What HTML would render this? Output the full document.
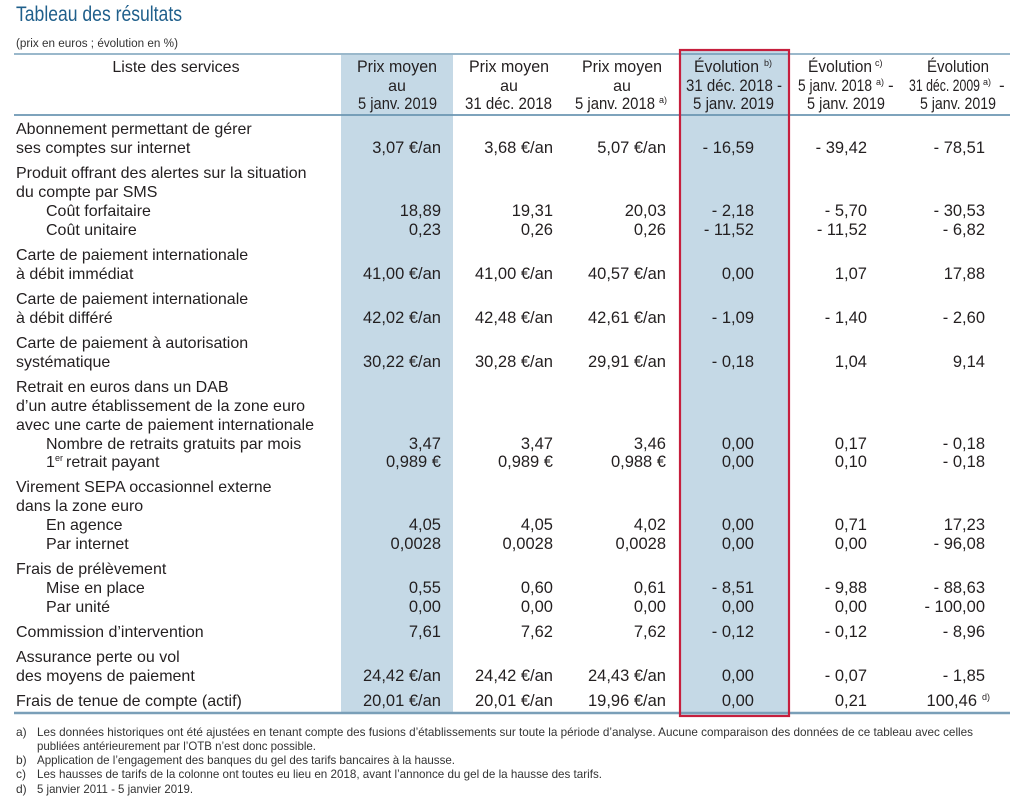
<!DOCTYPE html>
<html>
<head>
<meta charset="utf-8">
<style>
html,body{margin:0;padding:0;background:#ffffff;}
svg{display:block;}
text{font-family:"Liberation Sans",Arial,sans-serif;fill:#231f20;}
.t{font-size:16px;}
.n{font-size:16.5px;text-anchor:end;}
.h{font-size:16px;text-anchor:middle;}
.hs{font-size:17px;}
.sup{font-size:9px;}
.f{font-size:12px;fill:#333333;}
</style>
</head>
<body>
<svg width="1020" height="811" viewBox="0 0 1020 811" xmlns="http://www.w3.org/2000/svg">
  <!-- Title -->
  <text x="16" y="21" font-size="21" textLength="166" lengthAdjust="spacingAndGlyphs" style="fill:#1f5f8b">Tableau des résultats</text>
  <text x="16" y="47" font-size="11.5" textLength="162" lengthAdjust="spacingAndGlyphs" style="fill:#333">(prix en euros ; évolution en %)</text>

  <!-- shaded columns -->
  <rect x="341" y="55" width="112" height="658" fill="#c5d9e6"/>
  <rect x="680" y="50" width="109" height="666" fill="#c5d9e6"/>

  <!-- rules -->
  <line x1="14" y1="54" x2="1010" y2="54" stroke="#5d8dac" stroke-width="1.3"/>
  <line x1="14" y1="115" x2="1010" y2="115" stroke="#6b96b2" stroke-width="1.8"/>
  <line x1="14" y1="713" x2="1010" y2="713" stroke="#7a9fb8" stroke-width="2.5"/>

  <!-- red box -->
  <rect x="680" y="50" width="109" height="666" fill="none" stroke="#c61f3d" stroke-width="2.2"/>

  <!-- Header -->
  <text class="h" x="176" y="72">Liste des services</text>

  <text class="hs" x="357" y="72" textLength="80" lengthAdjust="spacingAndGlyphs">Prix moyen</text>
  <text class="h" x="397" y="91">au</text>
  <text class="hs" x="358" y="109" textLength="79" lengthAdjust="spacingAndGlyphs">5 janv. 2019</text>

  <text class="hs" x="469" y="72" textLength="80" lengthAdjust="spacingAndGlyphs">Prix moyen</text>
  <text class="h" x="509" y="91">au</text>
  <text class="hs" x="465" y="109" textLength="87" lengthAdjust="spacingAndGlyphs">31 déc. 2018</text>

  <text class="hs" x="582" y="72" textLength="80" lengthAdjust="spacingAndGlyphs">Prix moyen</text>
  <text class="h" x="622" y="91">au</text>
  <text class="hs" x="575" y="109" textLength="80" lengthAdjust="spacingAndGlyphs">5 janv. 2018</text>
  <text class="sup" x="659" y="103">a)</text>

  <text class="hs" x="694" y="72" textLength="65" lengthAdjust="spacingAndGlyphs">Évolution</text>
  <text class="sup" x="764" y="66">b)</text>
  <text class="hs" x="686" y="91" textLength="96" lengthAdjust="spacingAndGlyphs">31 déc. 2018 -</text>
  <text class="hs" x="693" y="109" textLength="81" lengthAdjust="spacingAndGlyphs">5 janv. 2019</text>

  <text class="hs" x="808" y="72" textLength="64" lengthAdjust="spacingAndGlyphs">Évolution</text>
  <text class="sup" x="875" y="66">c)</text>
  <text class="hs" x="798" y="91" textLength="74" lengthAdjust="spacingAndGlyphs">5 janv. 2018</text>
  <text class="sup" x="876" y="85">a)</text>
  <text class="hs" x="888" y="91">-</text>
  <text class="hs" x="807" y="109" textLength="78" lengthAdjust="spacingAndGlyphs">5 janv. 2019</text>

  <text class="hs" x="927" y="72" textLength="62" lengthAdjust="spacingAndGlyphs">Évolution</text>
  <text class="hs" x="909" y="91" textLength="71" lengthAdjust="spacingAndGlyphs">31 déc. 2009</text>
  <text class="sup" x="983" y="85">a)</text>
  <text class="hs" x="999" y="91">-</text>
  <text class="hs" x="920" y="109" textLength="76" lengthAdjust="spacingAndGlyphs">5 janv. 2019</text>

  <!-- Labels -->
  <text class="t" x="16" y="134">Abonnement permettant de gérer</text>
  <text class="t" x="16" y="153">ses comptes sur internet</text>

  <text class="t" x="16" y="178">Produit offrant des alertes sur la situation</text>
  <text class="t" x="16" y="197">du compte par SMS</text>
  <text class="t" x="46" y="216">Coût forfaitaire</text>
  <text class="t" x="46" y="235">Coût unitaire</text>

  <text class="t" x="16" y="260">Carte de paiement internationale</text>
  <text class="t" x="16" y="279">à débit immédiat</text>

  <text class="t" x="16" y="304">Carte de paiement internationale</text>
  <text class="t" x="16" y="323">à débit différé</text>

  <text class="t" x="16" y="348">Carte de paiement à autorisation</text>
  <text class="t" x="16" y="367">systématique</text>

  <text class="t" x="16" y="392">Retrait en euros dans un DAB</text>
  <text class="t" x="16" y="411">d’un autre établissement de la zone euro</text>
  <text class="t" x="16" y="430">avec une carte de paiement internationale</text>
  <text class="t" x="46" y="449">Nombre de retraits gratuits par mois</text>
  <text class="t" x="46" y="467">1</text>
  <text class="sup" x="55" y="461">er</text>
  <text class="t" x="66" y="467">retrait payant</text>

  <text class="t" x="16" y="492">Virement SEPA occasionnel externe</text>
  <text class="t" x="16" y="511">dans la zone euro</text>
  <text class="t" x="46" y="530">En agence</text>
  <text class="t" x="46" y="549">Par internet</text>

  <text class="t" x="16" y="574">Frais de prélèvement</text>
  <text class="t" x="46" y="593">Mise en place</text>
  <text class="t" x="46" y="612">Par unité</text>

  <text class="t" x="16" y="637">Commission d’intervention</text>

  <text class="t" x="16" y="662">Assurance perte ou vol</text>
  <text class="t" x="16" y="681">des moyens de paiement</text>

  <text class="t" x="16" y="706">Frais de tenue de compte (actif)</text>

  <!-- Values -->
  <g>
    <text class="n" x="441" y="153">3,07 €/an</text>
    <text class="n" x="553" y="153">3,68 €/an</text>
    <text class="n" x="666" y="153">5,07 €/an</text>
    <text class="n" x="754" y="153">- 16,59</text>
    <text class="n" x="867" y="153">- 39,42</text>
    <text class="n" x="985" y="153">- 78,51</text>

    <text class="n" x="441" y="216">18,89</text>
    <text class="n" x="553" y="216">19,31</text>
    <text class="n" x="666" y="216">20,03</text>
    <text class="n" x="754" y="216">- 2,18</text>
    <text class="n" x="867" y="216">- 5,70</text>
    <text class="n" x="985" y="216">- 30,53</text>

    <text class="n" x="441" y="235">0,23</text>
    <text class="n" x="553" y="235">0,26</text>
    <text class="n" x="666" y="235">0,26</text>
    <text class="n" x="754" y="235">- 11,52</text>
    <text class="n" x="867" y="235">- 11,52</text>
    <text class="n" x="985" y="235">- 6,82</text>

    <text class="n" x="441" y="279">41,00 €/an</text>
    <text class="n" x="553" y="279">41,00 €/an</text>
    <text class="n" x="666" y="279">40,57 €/an</text>
    <text class="n" x="754" y="279">0,00</text>
    <text class="n" x="867" y="279">1,07</text>
    <text class="n" x="985" y="279">17,88</text>

    <text class="n" x="441" y="323">42,02 €/an</text>
    <text class="n" x="553" y="323">42,48 €/an</text>
    <text class="n" x="666" y="323">42,61 €/an</text>
    <text class="n" x="754" y="323">- 1,09</text>
    <text class="n" x="867" y="323">- 1,40</text>
    <text class="n" x="985" y="323">- 2,60</text>

    <text class="n" x="441" y="367">30,22 €/an</text>
    <text class="n" x="553" y="367">30,28 €/an</text>
    <text class="n" x="666" y="367">29,91 €/an</text>
    <text class="n" x="754" y="367">- 0,18</text>
    <text class="n" x="867" y="367">1,04</text>
    <text class="n" x="985" y="367">9,14</text>

    <text class="n" x="441" y="449">3,47</text>
    <text class="n" x="553" y="449">3,47</text>
    <text class="n" x="666" y="449">3,46</text>
    <text class="n" x="754" y="449">0,00</text>
    <text class="n" x="867" y="449">0,17</text>
    <text class="n" x="985" y="449">- 0,18</text>

    <text class="n" x="441" y="467">0,989 €</text>
    <text class="n" x="553" y="467">0,989 €</text>
    <text class="n" x="666" y="467">0,988 €</text>
    <text class="n" x="754" y="467">0,00</text>
    <text class="n" x="867" y="467">0,10</text>
    <text class="n" x="985" y="467">- 0,18</text>

    <text class="n" x="441" y="530">4,05</text>
    <text class="n" x="553" y="530">4,05</text>
    <text class="n" x="666" y="530">4,02</text>
    <text class="n" x="754" y="530">0,00</text>
    <text class="n" x="867" y="530">0,71</text>
    <text class="n" x="985" y="530">17,23</text>

    <text class="n" x="441" y="549">0,0028</text>
    <text class="n" x="553" y="549">0,0028</text>
    <text class="n" x="666" y="549">0,0028</text>
    <text class="n" x="754" y="549">0,00</text>
    <text class="n" x="867" y="549">0,00</text>
    <text class="n" x="985" y="549">- 96,08</text>

    <text class="n" x="441" y="593">0,55</text>
    <text class="n" x="553" y="593">0,60</text>
    <text class="n" x="666" y="593">0,61</text>
    <text class="n" x="754" y="593">- 8,51</text>
    <text class="n" x="867" y="593">- 9,88</text>
    <text class="n" x="985" y="593">- 88,63</text>

    <text class="n" x="441" y="612">0,00</text>
    <text class="n" x="553" y="612">0,00</text>
    <text class="n" x="666" y="612">0,00</text>
    <text class="n" x="754" y="612">0,00</text>
    <text class="n" x="867" y="612">0,00</text>
    <text class="n" x="985" y="612">- 100,00</text>

    <text class="n" x="441" y="637">7,61</text>
    <text class="n" x="553" y="637">7,62</text>
    <text class="n" x="666" y="637">7,62</text>
    <text class="n" x="754" y="637">- 0,12</text>
    <text class="n" x="867" y="637">- 0,12</text>
    <text class="n" x="985" y="637">- 8,96</text>

    <text class="n" x="441" y="681">24,42 €/an</text>
    <text class="n" x="553" y="681">24,42 €/an</text>
    <text class="n" x="666" y="681">24,43 €/an</text>
    <text class="n" x="754" y="681">0,00</text>
    <text class="n" x="867" y="681">- 0,07</text>
    <text class="n" x="985" y="681">- 1,85</text>

    <text class="n" x="441" y="706">20,01 €/an</text>
    <text class="n" x="553" y="706">20,01 €/an</text>
    <text class="n" x="666" y="706">19,96 €/an</text>
    <text class="n" x="754" y="706">0,00</text>
    <text class="n" x="867" y="706">0,21</text>
    <text class="n" x="977" y="706">100,46</text>
  </g>
  <text class="sup" x="982" y="700">d)</text>

  <!-- Footnotes -->
  <text class="f" x="16" y="736">a)</text>
  <text class="f" x="37" y="736" textLength="936" lengthAdjust="spacingAndGlyphs">Les données historiques ont été ajustées en tenant compte des fusions d’établissements sur toute la période d’analyse. Aucune comparaison des données de ce tableau avec celles</text>
  <text class="f" x="37" y="750" textLength="279" lengthAdjust="spacingAndGlyphs">publiées antérieurement par l’OTB n’est donc possible.</text>
  <text class="f" x="16" y="764">b)</text>
  <text class="f" x="37" y="764" textLength="418" lengthAdjust="spacingAndGlyphs">Application de l’engagement des banques du gel des tarifs bancaires à la hausse.</text>
  <text class="f" x="16" y="778">c)</text>
  <text class="f" x="37" y="778" textLength="565" lengthAdjust="spacingAndGlyphs">Les hausses de tarifs de la colonne ont toutes eu lieu en 2018, avant l’annonce du gel de la hausse des tarifs.</text>
  <text class="f" x="16" y="793">d)</text>
  <text class="f" x="37" y="793" textLength="156" lengthAdjust="spacingAndGlyphs">5 janvier 2011 - 5 janvier 2019.</text>
</svg>
</body>
</html>
